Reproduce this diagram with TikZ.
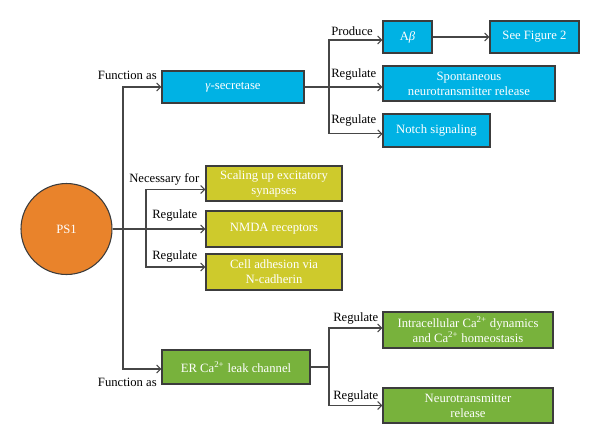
\documentclass[tikz,border=0pt]{standalone}
\usepackage{fontspec}
\setmainfont{Liberation Serif}
\usetikzlibrary{arrows.meta}
\definecolor{cyanbox}{RGB}{0,178,228}
\definecolor{olivebox}{RGB}{206,202,44}
\definecolor{greenbox}{RGB}{120,178,60}
\definecolor{orangeps}{RGB}{233,131,43}
\definecolor{edgecol}{RGB}{60,60,60}
\definecolor{lncol}{RGB}{70,70,70}

\begin{document}
\begin{tikzpicture}[x=0.75pt,y=0.75pt,yscale=-1,xscale=1,
	bx/.style={draw=edgecol, line width=0.8pt, text=white, inner sep=0pt, align=center, font=\fontsize{9.5}{11.25}\selectfont},
	lbl/.style={inner sep=0pt, font=\fontsize{9.5}{11.25}\selectfont},
	arr/.style={draw=lncol, line width=0.8pt, -{Straight Barb[length=3pt,width=6pt]}},
	ln/.style={draw=lncol, line width=0.8pt}]
			\useasboundingbox (0,0) rectangle (600,444);
			
			\node[circle, draw=edgecol, line width=0.8pt, fill=orangeps, text=white, minimum size=68.25pt, inner sep=0pt, font=\fontsize{9.5}{11.25}\selectfont] (ps1) at (66.5,229) {PS1};
			
			% gamma-secretase branch
			\node[bx, fill=cyanbox, minimum width=106.5pt, minimum height=24pt] (gsec) at (233,87) {\textit{γ}-secretase};
			\node[bx, fill=cyanbox, minimum width=36.75pt, minimum height=24pt] (abeta) at (407.5,37) {A\textit{β}};
			\node[bx, fill=cyanbox, minimum width=66.75pt, minimum height=24pt] (fig2) at (534.5,37) {See Figure 2};
			\node[bx, fill=cyanbox, minimum width=129pt, minimum height=26.25pt] (spont) at (469,83.5) {Spontaneous\\neurotransmitter release};
			\node[bx, fill=cyanbox, minimum width=80.25pt, minimum height=24.75pt] (notch) at (436.5,130.5) {Notch signaling};
			
			% olive group
			\node[bx, fill=olivebox, minimum width=102pt, minimum height=26.25pt] (scal) at (274,183.5) {Scaling up excitatory\\synapses};
			\node[bx, fill=olivebox, minimum width=102pt, minimum height=27pt] (nmda) at (274,229) {NMDA receptors};
			\node[bx, fill=olivebox, minimum width=102pt, minimum height=27pt] (cell) at (274,272) {Cell adhesion via\\N-cadherin};
			
			% ER branch
			\node[bx, fill=greenbox, minimum width=111pt, minimum height=25.5pt] (er) at (236,367) {ER Ca\textsuperscript{2+} leak channel};
			\node[bx, fill=greenbox, minimum width=127.5pt, minimum height=27pt] (intra) at (468,330) {Intracellular Ca\textsuperscript{2+} dynamics\\and Ca\textsuperscript{2+} homeostasis};
			\node[bx, fill=greenbox, minimum width=127.5pt, minimum height=26.25pt] (neuro) at (468,405.5) {Neurotransmitter\\release};
			
			\coordinate (tk) at (123,229);
			\coordinate (yb) at (146,229);
			\coordinate (gb) at (329,87);
			\coordinate (eb) at (329,367);
			
			% yshift runs the other way here (yscale=-1)
			\draw[arr] (ps1) -- (nmda);
			\draw[arr] (tk) |- (gsec);
			\draw[arr] (tk) |- ([yshift=1.5pt]er.west);
			\draw[arr] (yb) |- ([yshift=4.5pt]scal.west);
			\draw[arr] (yb) |- ([yshift=-3.75pt]cell.west);
			\draw[arr] (gsec.east) -- (gsec.east -| spont.west);
			\draw[arr] (gb) |- ([yshift=2.25pt]abeta.west);
			\draw[arr] (gb) |- ([yshift=2.5pt]notch.west);
			\draw[arr] (abeta) -- (fig2);
			\draw[ln] (er) -- (eb);
			\draw[arr] (eb) |- ([yshift=-1.5pt]intra.west);
			\draw[arr] (eb) |- (neuro);
			
			\node[lbl, anchor=east] (fa1) at (157,75) {Function as};
			\node[lbl, anchor=west] (prod) at (331,31) {Produce};
			\node[lbl, anchor=west] (reg1) at (331,74) {Regulate};
			\node[lbl, anchor=west] (reg2) at (331,120) {Regulate};
			\node[lbl, anchor=west] (nec) at (129,179) {Necessary for};
			\node[lbl, anchor=west] (reg3) at (152,215) {Regulate};
			\node[lbl, anchor=west] (reg4) at (152,256) {Regulate};
			\node[lbl, anchor=east] (fa2) at (157,382) {Function as};
			\node[lbl, anchor=west] (reg5) at (333,318) {Regulate};
			\node[lbl, anchor=west] (reg6) at (333,396) {Regulate};
			\end{tikzpicture}
\end{document}
